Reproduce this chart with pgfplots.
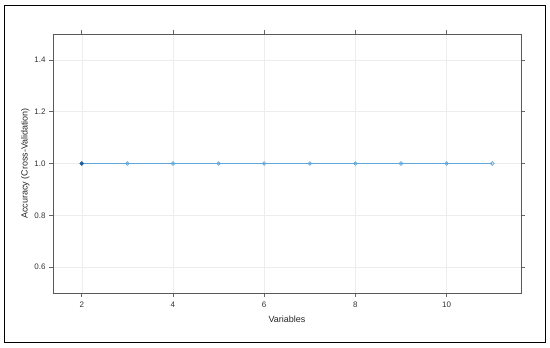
\documentclass[border=0pt]{standalone}
\usepackage{pgfplots}
\pgfplotsset{compat=1.18}
\usepackage{fontspec}
\setmainfont{Liberation Sans}
\definecolor{bestc}{HTML}{1F5C99}
\definecolor{gridc}{HTML}{EDEDED}
\begin{document}
\begin{tikzpicture}[x=1pt,y=1pt]
\useasboundingbox (0,0) rectangle (550,348);
\begin{axis}[
  scale only axis,
  width=468pt, height=259pt,
  at={(53pt,55pt)}, anchor=south west,
  xmin=1.37, xmax=11.63,
  ymin=0.5, ymax=1.5,
  xtick={2,4,6,8,10},
  ytick={0.6,0.8,1.0,1.2,1.4},
  yticklabels={0.6,0.8,1.0,1.2,1.4},
  tick align=outside,
  major tick length=4pt,
  tick style={black!60, line width=0.5pt},
  axis line style={black!65, line width=0.8pt},
  xmajorgrids, ymajorgrids,
  major grid style={gridc, line width=0.4pt},
  /pgf/number format/assume math mode=true,
  tick label style={font=\fontsize{8}{9}\selectfont, text=black!80},
  xlabel={Variables},
  ylabel={Accuracy (Cross-Validation)},
  label style={font=\fontsize{9}{10}\selectfont, text=black!85},
  xlabel style={yshift=-2pt},
  ylabel style={yshift=-2pt},
  xticklabel style={yshift=-1pt},
]
\addplot[draw={rgb,255:red,95;green,166;blue,220}, line width=1.6pt, mark=o, mark size=1.8pt,
  mark options={draw={rgb,255:red,95;green,166;blue,220}, fill=white, line width=0.7pt}] table {
x y
2 1.0
3 1.0
4 1.0
5 1.0
6 1.0
7 1.0
8 1.0
9 1.0
10 1.0
11 1.0
};
\addplot[only marks, mark=*, mark size=1.8pt, color=bestc] coordinates {(2,1)};
\end{axis}
\draw[black, line width=1.8pt] (4.5,5.5) rectangle (545.5,342.5);
\end{tikzpicture}
\end{document}
